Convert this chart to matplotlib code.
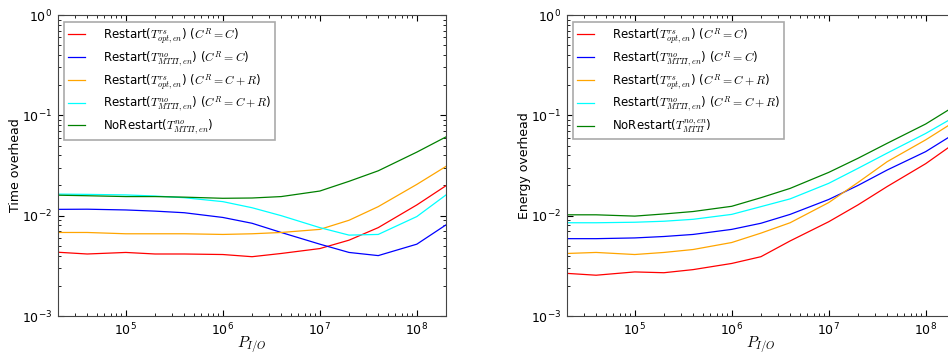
import matplotlib
matplotlib.use("Agg")
import matplotlib.pyplot as plt

plt.rcParams['mathtext.fontset'] = 'cm'
plt.rcParams['font.family'] = ['DejaVu Sans']

# I/O pressure values (x axis)
p_io = [2e4, 4e4, 1e5, 2e5, 4e5, 1e6, 2e6, 4e6, 1e7, 2e7, 4e7, 1e8, 2e8]

# time overhead (left panel)
time_rs_c = [0.00432, 0.00415, 0.0043, 0.00415, 0.00415, 0.0041, 0.0039, 0.0042, 0.0047, 0.0057, 0.0076, 0.0128, 0.0199]
time_no_c = [0.01156, 0.0116, 0.0114, 0.0111, 0.0107, 0.0096, 0.0084, 0.0068, 0.0052, 0.0043, 0.0040, 0.0052, 0.0081]
time_rs_cr = [0.0068, 0.0068, 0.0066, 0.0066, 0.0066, 0.0065, 0.0066, 0.0068, 0.0073, 0.0090, 0.0123, 0.0205, 0.031]
time_no_cr = [0.0164, 0.0163, 0.0161, 0.0157, 0.0151, 0.0138, 0.0120, 0.0100, 0.0076, 0.0064, 0.0065, 0.0098, 0.0161]
time_norestart = [0.0160, 0.0158, 0.0155, 0.0155, 0.0153, 0.0149, 0.0150, 0.0155, 0.0176, 0.0220, 0.0280, 0.043, 0.061]

# energy overhead (right panel)
energy_rs_c = [0.00266, 0.00255, 0.00275, 0.0027, 0.0029, 0.00334, 0.0039, 0.0056, 0.0087, 0.0128, 0.0195, 0.033, 0.053]
energy_no_c = [0.0059, 0.0059, 0.0060, 0.0062, 0.0065, 0.0073, 0.0084, 0.0103, 0.0145, 0.0200, 0.0285, 0.0435, 0.066]
energy_rs_cr = [0.0042, 0.0043, 0.0041, 0.0043, 0.0046, 0.0054, 0.0067, 0.0085, 0.0135, 0.0214, 0.0345, 0.057, 0.087]
energy_no_cr = [0.0085, 0.0085, 0.0086, 0.0088, 0.0092, 0.0103, 0.0123, 0.0147, 0.0210, 0.0296, 0.042, 0.066, 0.097]
energy_norestart = [0.0102, 0.0102, 0.0099, 0.0104, 0.0110, 0.0124, 0.0151, 0.0187, 0.0270, 0.0373, 0.0526, 0.082, 0.124]

colors = ['red', 'blue', 'orange', 'cyan', 'green']
labels_common = [r'Restart($T^{rs}_{opt,en}$) ($C^R=C$)',
                 r'Restart($T^{no}_{MTTI,en}$) ($C^R=C$)',
                 r'Restart($T^{rs}_{opt,en}$) ($C^R=C+R$)',
                 r'Restart($T^{no}_{MTTI,en}$) ($C^R=C+R$)']
time_labels = labels_common + [r'NoRestart($T^{no}_{MTTI,en}$)']
energy_labels = labels_common + [r'NoRestart($T^{no,en}_{MTTI}$)']

fig = plt.figure(figsize=(9.48, 3.53), dpi=100)
ax1 = fig.add_axes([0.0612, 0.1048, 0.4093, 0.8527])
ax2 = fig.add_axes([0.598, 0.1048, 0.4093, 0.8527])

panels = [
    (ax1, [time_rs_c, time_no_c, time_rs_cr, time_no_cr, time_norestart], time_labels, 'Time overhead'),
    (ax2, [energy_rs_c, energy_no_c, energy_rs_cr, energy_no_cr, energy_norestart], energy_labels, 'Energy overhead'),
]

for ax, series, labels, ylab in panels:
    for ys, c, lab in zip(series, colors, labels):
        ax.plot(p_io, ys, color=c, lw=0.9, label=lab)
    ax.set_xscale('log')
    ax.set_yscale('log')
    ax.set_xlim(2e4, 2e8)
    ax.set_ylim(1e-3, 1)
    ax.set_xlabel(r'$P_{I/O}$', fontsize=11, labelpad=-3)
    ax.set_ylabel(ylab, fontsize=9, labelpad=0)
    ax.tick_params(which='both', direction='in', top=True, right=True, labelsize=9, pad=4)
    ax.tick_params(which='major', length=4)
    ax.tick_params(which='minor', length=2)
    for s in ax.spines.values():
        s.set_color('#444444')
    leg = ax.legend(loc='upper left', bbox_to_anchor=(0.0155, 0.977), borderaxespad=0,
                    fontsize=8.5, handlelength=1.45, handletextpad=1.5, labelspacing=0.28,
                    borderpad=0.35, fancybox=False, framealpha=1)
    leg.get_frame().set_edgecolor('#aaaaaa')
    leg.get_frame().set_linewidth(1.2)

fig.savefig('out.png', dpi=100)
